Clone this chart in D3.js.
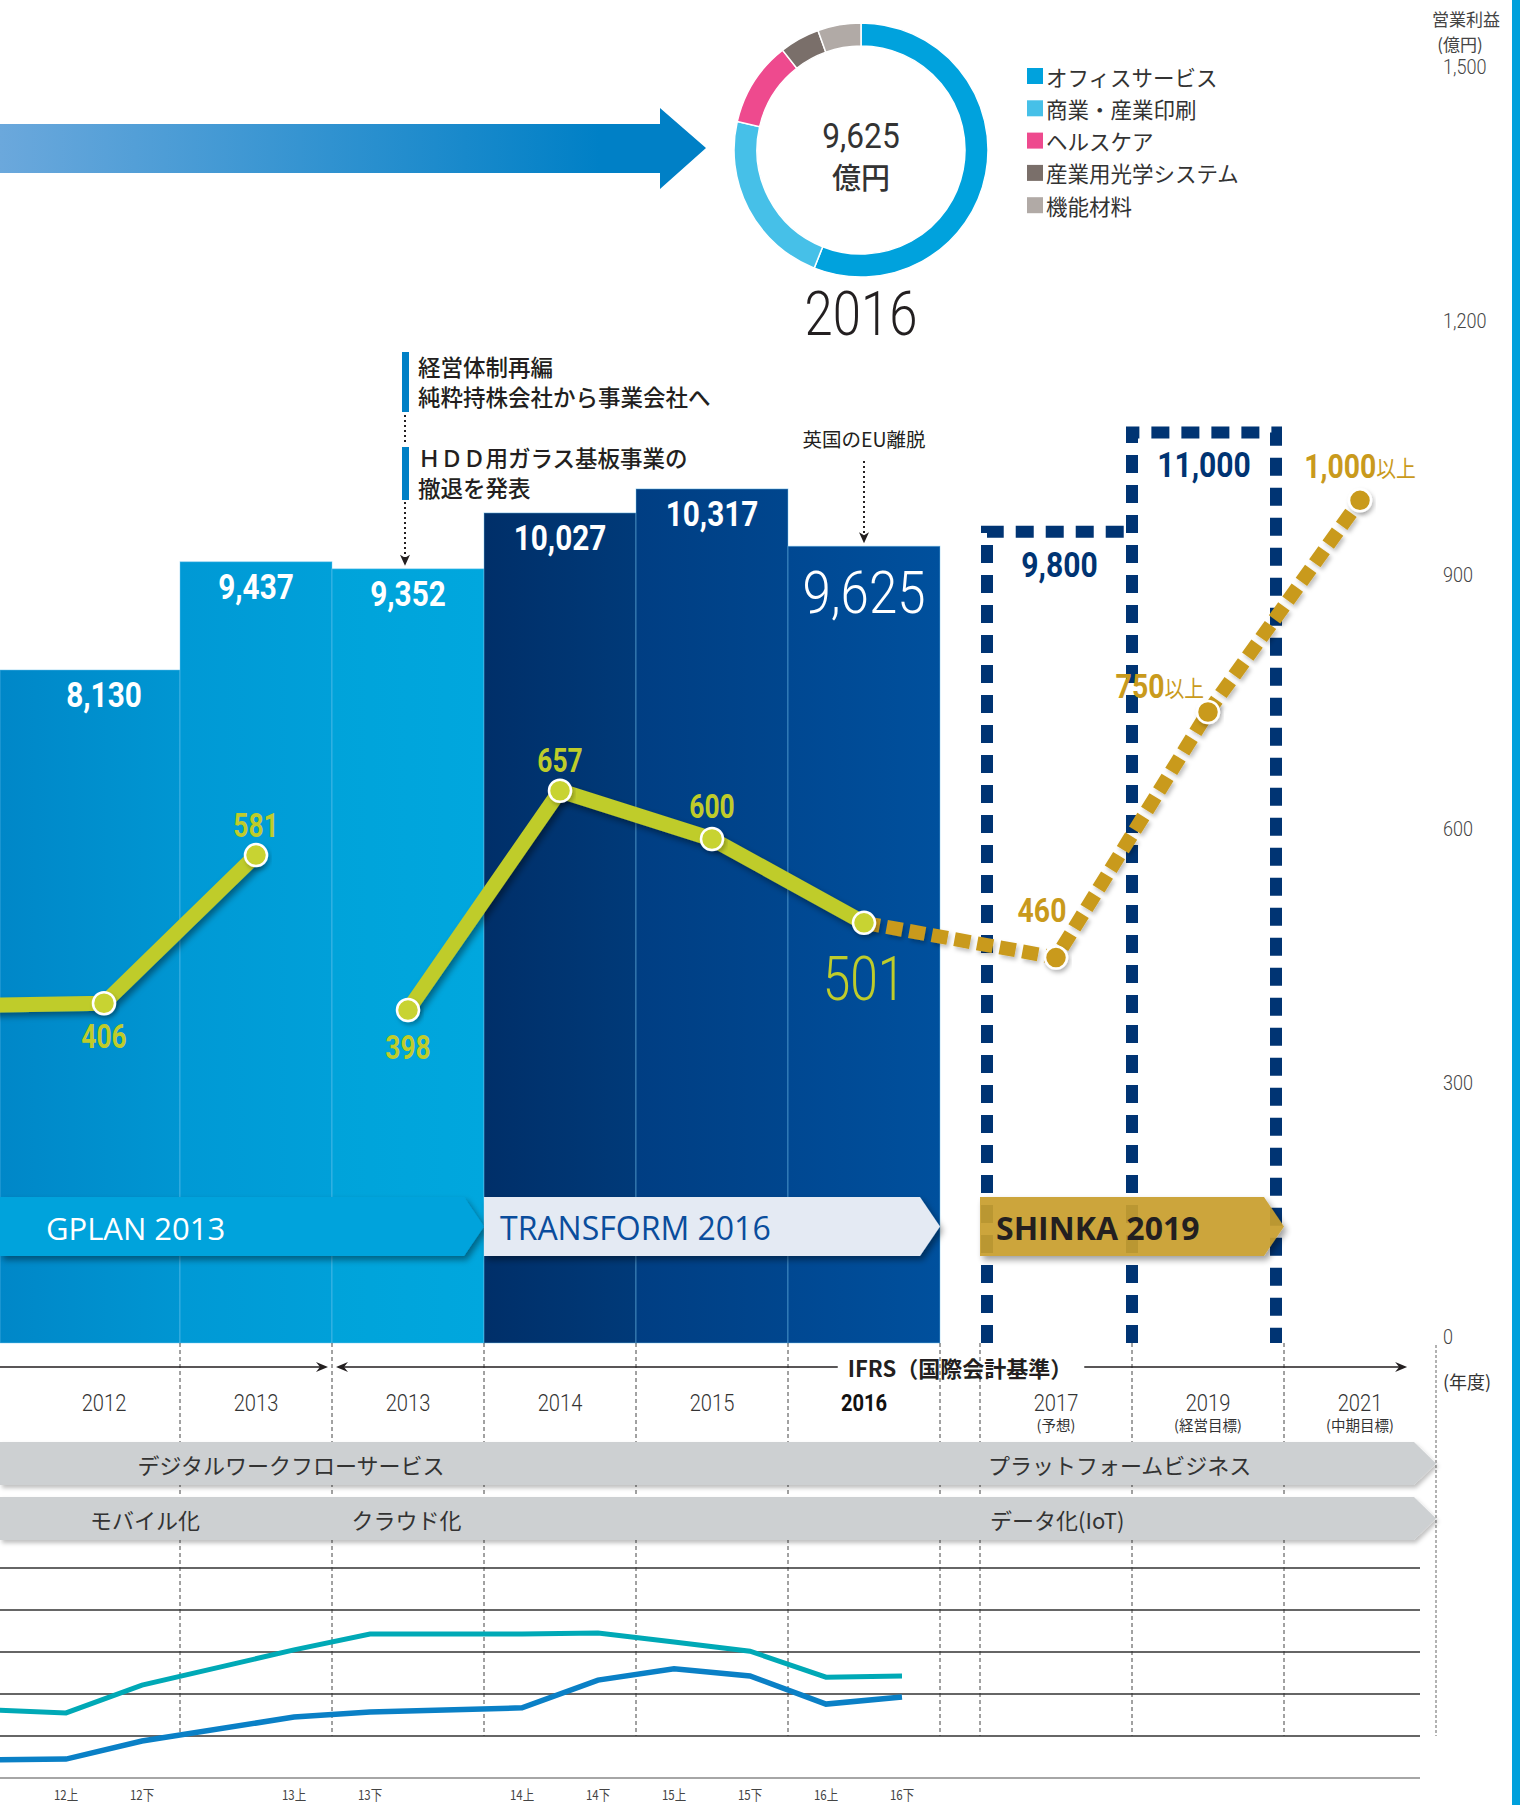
<!DOCTYPE html>
<html>
<head>
<meta charset="utf-8">
<script src="https://cdn.jsdelivr.net/npm/d3@7"></script>
<style>
  body { margin: 0; background: #fff; }
  svg { display: block; background: #fff; }
</style>
</head>
<body>
<svg width="1520" height="1805"></svg>
<script>
// ---- data ----
const actYears  = ["2011", "2012", "2013J", "2013I", "2014", "2015", "2016"];
const actLabels = ["2011", "2012", "2013", "2013", "2014", "2015", "2016"];
const revenue   = [null, 8130, 9437, 9352, 10027, 10317, 9625];
const profit    = [403, 406, 581, 398, 657, 600, 501];
const currentYear = "2016";
const ifrsFrom = "2013I";

const planYears   = ["2017", "2019", "2021"];
const planNotes   = ["(予想)", "(経営目標)", "(中期目標)"];
const planRevenue = [9800, 11000, null];
const planProfit  = [460, 750, 1000];
const planProfitText = ["460", "750以上", "1,000以上"];

const segNames  = ["オフィスサービス", "商業・産業印刷", "ヘルスケア", "産業用光学システム", "機能材料"];
const segShares = [56.0, 22.6, 10.8, 5.1, 5.5];
const totalText = "9,625";

const profitTicks = [0, 300, 600, 900, 1200, 1500];

const halfLabels = ["11下", "12上", "12下", "13上", "13下", "14上", "14下", "15上", "15下", "16上", "16下"];
const lineTeal = [1.62, 1.55, 2.21, 3.05, 3.43, 3.43, 3.45, 3.24, 3.02, 2.40, 2.43];
const lineBlue = [0.43, 0.45, 0.88, 1.45, 1.57, 1.67, 2.33, 2.60, 2.43, 1.76, 1.93];

const plans    = ["GPLAN 2013", "TRANSFORM 2016", "SHINKA 2019"];
const planFrom = ["2011", "2014", "2017"];
const planTo   = ["2013I", "2016", "2019"];

// ---- styles ----
const NUM = "Roboto,'Noto Sans','Noto Sans CJK JP',sans-serif";
const JP = "'Noto Sans CJK JP','Noto Sans',sans-serif";
const SANS = "'Open Sans','Noto Sans',sans-serif";
const segColors = ["#00a2dd", "#46c0e8", "#ee4a8e", "#7a6f6a", "#b1aaa6"];
const barColors = {
  "2012": ["#0087c8", "#0096d2"], "2013J": ["#0099d5", "#00a0d9"], "2013I": ["#00a3da", "#00a7de"],
  "2014": ["#002f69", "#003a79"], "2015": ["#003e83", "#00468e"], "2016": ["#004892", "#00509d"]
};
const lime = "#bfcc2a", gold = "#c99a1c", navy = "#003473";
const profitLabelDy = {"2012": 33, "2013J": -30, "2013I": 37, "2014": -30, "2015": -33, "2016": 56};
const planLabelPos = {"2017": [-14, -47, "middle"], "2019": [-4, -26, "end"], "2021": [0, -34, "middle"]};

let svg = d3.select("svg");

// condensed look: move x/y into a transform and squeeze horizontally
function squeeze(sel, k) {
  sel.each(function() {
    let t = d3.select(this);
    let x = +t.attr("x") || 0, y = +t.attr("y") || 0;
    t.attr("x", 0).attr("y", 0).attr("transform", `translate(${x},${y}) scale(${k},1)`);
  });
  return sel;
}

// ---- scales ----
const xAct = d3.scaleBand().domain(actYears).range([-124, 940]);
const xPlan = d3.scaleBand().domain(planYears).range([980, 1436]);
const bw = xAct.bandwidth();
const cx = k => (actYears.includes(k) ? xAct(k) : xPlan(k)) + bw / 2;
const yRev = d3.scaleLinear().domain([0, 12000]).range([1343, 349.6]);
const yProf = d3.scaleLinear().domain([0, 1500]).range([1347, 77]);
const yLow = d3.scaleLinear().domain([0, 5]).range([1778, 1568]);
const baseY = yRev(0);

const defs = svg.append("defs");
function shadow(id, dx, dy, sd, op) {
  defs.append("filter").attr("id", id)
      .attr("x", "-20%").attr("y", "-30%").attr("width", "140%").attr("height", "170%")
    .append("feDropShadow")
      .attr("dx", dx).attr("dy", dy).attr("stdDeviation", sd)
      .attr("flood-color", "#000").attr("flood-opacity", op);
}
shadow("sh", 3, 4, 3, 0.4);
shadow("shSoft", 2, 3, 2, 0.25);

// right strip
svg.append("rect").attr("x", 1512).attr("y", 0).attr("width", 8).attr("height", 1805).attr("fill", "#00a0dc");

// top gradient arrow
let ag = defs.append("linearGradient").attr("id", "arrowGrad");
ag.append("stop").attr("offset", 0).attr("stop-color", "#6ba8dc");
ag.append("stop").attr("offset", 0.85).attr("stop-color", "#0080c6");
svg.append("path")
    .attr("d", d3.line()([[0, 124], [660, 124], [660, 108], [706, 148], [660, 189], [660, 173], [0, 173]]) + "Z")
    .attr("fill", "url(#arrowGrad)");

// donut
const pie = d3.pie().sort(null).value(d => d);
const arc = d3.arc().innerRadius(104).outerRadius(127);
let donut = svg.append("g").attr("transform", "translate(861,150)");
donut.selectAll("path").data(pie(segShares)).join("path")
    .attr("d", arc).attr("fill", (d, i) => segColors[i])
    .attr("stroke", "#fff").attr("stroke-width", 1.5);
squeeze(donut.append("text").attr("y", -14).attr("text-anchor", "middle").attr("dominant-baseline", "central")
    .attr("font-family", NUM).attr("font-size", 36).attr("fill", "#333").text(totalText), 0.88);
donut.append("text").attr("y", 26).attr("text-anchor", "middle").attr("dominant-baseline", "central")
    .attr("font-family", JP).attr("font-size", 29).attr("font-weight", 500).attr("fill", "#333").text("億円");
squeeze(svg.append("text").attr("x", 861).attr("y", 314).attr("text-anchor", "middle").attr("dominant-baseline", "central")
    .attr("font-family", NUM).attr("font-weight", 300).attr("font-size", 62).attr("fill", "#231f20").text(currentYear), 0.82);

// legend
let legend = svg.append("g").attr("transform", "translate(1027,76)");
let li = legend.selectAll("g").data(segNames).join("g")
    .attr("transform", (d, i) => `translate(0,${i * 32.3})`);
li.append("rect").attr("y", -8).attr("width", 16).attr("height", 16).attr("fill", (d, i) => segColors[i]);
li.append("text").attr("x", 19).attr("dominant-baseline", "central")
    .attr("font-family", JP).attr("font-size", 21.5).attr("fill", "#333").text(d => d);

// right axis (operating profit)
let axisR = svg.append("g").attr("transform", "translate(1443,-10)")
    .call(d3.axisRight(yProf).tickValues(profitTicks).tickSize(0).tickPadding(0).tickFormat(d3.format(",")));
axisR.select(".domain").remove();
axisR.selectAll("text").attr("font-family", NUM).attr("font-weight", 300).attr("font-size", 21)
    .attr("fill", "#444").attr("transform", "scale(0.86,1)");
svg.append("text").attr("x", 1466).attr("y", 18).attr("text-anchor", "middle").attr("dominant-baseline", "central")
    .attr("font-family", JP).attr("font-size", 17).attr("fill", "#444").text("営業利益");
svg.append("text").attr("x", 1460).attr("y", 43).attr("text-anchor", "middle").attr("dominant-baseline", "central")
    .attr("font-family", JP).attr("font-size", 17).attr("fill", "#444").text("(億円)");

// ---- revenue bars ----
const bars = actYears.map((k, i) => ({k, v: revenue[i]})).filter(d => d.v != null);
const barX = d => d.k === bars[0].k ? 0 : xAct(d.k);   // first bar runs off the left edge
bars.forEach(d => {
  let g = defs.append("linearGradient").attr("id", "bg" + d.k);
  g.append("stop").attr("offset", 0).attr("stop-color", barColors[d.k][0]);
  g.append("stop").attr("offset", 1).attr("stop-color", barColors[d.k][1]);
});
svg.append("g").selectAll("rect").data(bars).join("rect")
    .attr("x", barX).attr("y", d => yRev(d.v))
    .attr("width", d => xAct(d.k) + bw - barX(d))
    .attr("height", d => baseY - yRev(d.v))
    .attr("fill", d => `url(#bg${d.k})`)
    .attr("stroke", "rgba(120,200,240,0.45)").attr("stroke-width", 1);

// target boxes (dashed), sharing their middle edge
const targets = planYears.map((k, i) => ({k, v: planRevenue[i]})).filter(d => d.v != null);
const edges = [xPlan(targets[0].k) + 7, xPlan(targets[1].k), xPlan(targets[1].k) + bw - 8];
let boxG = svg.append("g").attr("fill", "none").attr("stroke", navy)
    .attr("stroke-width", 12).attr("stroke-dasharray", "18 12");
boxG.append("path").attr("d", `M${edges[0]},${baseY}V${yRev(targets[0].v)}H${edges[1]}`);
boxG.append("path").attr("d", `M${edges[1]},${baseY}V${yRev(targets[1].v)}H${edges[2]}V${baseY}`);
squeeze(svg.append("g").selectAll("text").data(targets).join("text")
    .attr("x", (d, i) => (edges[i] + edges[i + 1]) / 2).attr("y", d => yRev(d.v) + 33)
    .attr("text-anchor", "middle").attr("dominant-baseline", "central")
    .attr("font-family", NUM).attr("font-weight", "bold").attr("font-size", 35).attr("fill", navy)
    .text(d => d3.format(",")(d.v)), 0.86);

// mid-term plan arrows
const planFill = ["#00a3dc", "#e4eaf3", "#c99f2e"];
const planInk = ["#fff", "#0a4d9c", "#231f20"];
let planG = svg.append("g");
plans.forEach((p, i) => {
  const x0 = Math.max(0, actYears.includes(planFrom[i]) ? xAct(planFrom[i]) : xPlan(planFrom[i]));
  const tip = (actYears.includes(planTo[i]) ? xAct(planTo[i]) : xPlan(planTo[i])) + bw;
  const t = 1197, b = 1256, m = (t + b) / 2;
  planG.append("path")
      .attr("d", d3.line()([[x0, t], [tip - 20, t], [tip, m], [tip - 20, b], [x0, b]]) + "Z")
      .attr("fill", planFill[i]).attr("opacity", i === 2 ? 0.93 : 1).attr("filter", "url(#sh)");
  planG.append("text").attr("x", Math.max(x0, 30) + 16).attr("y", m + 1).attr("dominant-baseline", "central")
      .attr("font-family", SANS).attr("font-size", i === 0 ? 31 : 32).attr("font-weight", i === 2 ? "bold" : "normal")
      .attr("fill", planInk[i]).text(p);
});

// ---- operating profit lines ----
const act = actYears.map((k, i) => ({k, v: profit[i]}));
const ifrsIdx = actYears.indexOf(ifrsFrom);
const line = d3.line().x(d => cx(d.k)).y(d => yProf(d.v));
const planPts = [act[act.length - 1]].concat(planYears.map((k, i) => ({k, v: planProfit[i], t: planProfitText[i]})));

svg.append("path").datum(planPts).attr("d", line)
    .attr("fill", "none").attr("stroke", gold).attr("stroke-width", 14)
    .attr("stroke-dasharray", "16 7").attr("filter", "url(#shSoft)");
svg.append("g").attr("filter", "url(#sh)").selectAll("path")
    .data([act.slice(0, ifrsIdx), act.slice(ifrsIdx)]).join("path")
    .attr("d", line).attr("fill", "none").attr("stroke", lime).attr("stroke-width", 15)
    .attr("stroke-linejoin", "round");
svg.append("g").selectAll("circle").data(planPts.slice(1)).join("circle")
    .attr("cx", d => cx(d.k)).attr("cy", d => yProf(d.v)).attr("r", 11)
    .attr("fill", gold).attr("stroke", "#fff").attr("stroke-width", 2.5).attr("filter", "url(#shSoft)");
svg.append("g").selectAll("circle").data(act).join("circle")
    .attr("cx", d => cx(d.k)).attr("cy", d => yProf(d.v)).attr("r", 11)
    .attr("fill", "#c8d330").attr("stroke", "#fff").attr("stroke-width", 2.5).attr("filter", "url(#shSoft)");

// value labels
squeeze(svg.append("g").selectAll("text").data(bars).join("text")
    .attr("x", d => cx(d.k)).attr("y", d => yRev(d.v) + (d.k === currentYear ? 46 : 25))
    .attr("text-anchor", "middle").attr("dominant-baseline", "central").attr("font-family", NUM)
    .attr("font-size", d => d.k === currentYear ? 60 : 35)
    .attr("font-weight", d => d.k === currentYear ? 300 : "bold")
    .attr("fill", "#fff").text(d => d3.format(",")(d.v)), 0.85);
squeeze(svg.append("g").selectAll("text").data(act.slice(1)).join("text")
    .attr("x", d => cx(d.k)).attr("y", d => yProf(d.v) + profitLabelDy[d.k])
    .attr("text-anchor", "middle").attr("dominant-baseline", "central").attr("font-family", NUM)
    .attr("font-size", d => d.k === currentYear ? 62 : 33)
    .attr("font-weight", d => d.k === currentYear ? 300 : "bold")
    .attr("fill", lime).text(d => d.v), 0.8);
let pl = svg.append("g").selectAll("text").data(planPts.slice(1)).join("text")
    .attr("x", d => cx(d.k) + planLabelPos[d.k][0]).attr("y", d => yProf(d.v) + planLabelPos[d.k][1])
    .attr("text-anchor", d => planLabelPos[d.k][2]).attr("dominant-baseline", "central")
    .attr("fill", gold);
pl.append("tspan").attr("font-family", NUM).attr("font-weight", "bold").attr("font-size", 33)
    .text(d => d.t.replace("以上", ""));
pl.append("tspan").attr("font-family", JP).attr("font-size", 23).text(d => d.t.includes("以上") ? "以上" : "");
squeeze(pl, 0.86);

// ---- annotations ----
function arrowDown(x, y) {
  return `M${x},${y}L${x - 5},${y - 11}L${x},${y - 8}L${x + 5},${y - 11}Z`;
}
let ann = svg.append("g");
const ax = cx("2013I") - 3;
ann.append("rect").attr("x", ax - 3).attr("y", 352).attr("width", 7).attr("height", 60).attr("fill", "#0080c6");
ann.append("rect").attr("x", ax - 3).attr("y", 447).attr("width", 7).attr("height", 53).attr("fill", "#0080c6");
[["経営体制再編", 366], ["純粋持株会社から事業会社へ", 396], ["ＨＤＤ用ガラス基板事業の", 457], ["撤退を発表", 487]]
  .forEach(([t, y]) => ann.append("text").attr("x", ax + 13).attr("y", y).attr("dominant-baseline", "central")
      .attr("font-family", JP).attr("font-size", 22.5).attr("font-weight", 500).attr("fill", "#231f20").text(t));
ann.append("path").attr("d", `M${ax},415V444M${ax},502V${yRev(9352) - 6}`)
    .attr("stroke", "#231f20").attr("stroke-width", 2).attr("stroke-dasharray", "2 3");
ann.append("path").attr("d", arrowDown(ax, yRev(9352) - 3)).attr("fill", "#231f20");
const ex = cx(currentYear);
ann.append("text").attr("x", ex).attr("y", 438).attr("text-anchor", "middle").attr("dominant-baseline", "central")
    .attr("font-family", JP).attr("font-size", 19.5).attr("fill", "#231f20").text("英国のEU離脱");
ann.append("path").attr("d", `M${ex},461V${yRev(9625) - 6}`)
    .attr("stroke", "#231f20").attr("stroke-width", 2).attr("stroke-dasharray", "2 3");
ann.append("path").attr("d", arrowDown(ex, yRev(9625) - 3)).attr("fill", "#231f20");

// ---- lower section ----
// column separators
const seps = actYears.slice(2).map(k => xAct(k)).concat([xAct(currentYear) + bw], planYears.map(k => xPlan(k)));
svg.append("g").selectAll("line").data(seps).join("line")
    .attr("x1", d => d).attr("x2", d => d).attr("y1", baseY).attr("y2", yLow(1))
    .attr("stroke", "#444").attr("stroke-width", 1).attr("stroke-dasharray", "4 3");
svg.append("line").attr("x1", xPlan("2021") + bw).attr("x2", xPlan("2021") + bw)
    .attr("y1", baseY + 2).attr("y2", yLow(1))
    .attr("stroke", "#999").attr("stroke-width", 1.5).attr("stroke-dasharray", "3 2");

// accounting standard row
const ry = 1367, ink = "#231f20";
function arrowHead(x, y, dir) {
  return `M${x},${y}L${x - 12 * dir},${y - 5}L${x - 8 * dir},${y}L${x - 12 * dir},${y + 5}Z`;
}
let acc = svg.append("g");
const jEnd = xAct(ifrsFrom) - 4, iStart = xAct(ifrsFrom) + 4;
const ifrsText = acc.append("text").attr("x", (xAct(currentYear) + bw + xPlan("2017")) / 2).attr("y", ry)
    .attr("text-anchor", "middle").attr("dominant-baseline", "central")
    .attr("font-family", JP).attr("font-size", 22).attr("font-weight", "bold").attr("fill", ink)
    .text("IFRS（国際会計基準）");
const tw = ifrsText.node().getComputedTextLength();
const tx = +ifrsText.attr("x");
const aEnd = xPlan("2021") + bw * 0.81;
acc.append("path").attr("d", `M0,${ry}H${jEnd - 6}M${iStart + 6},${ry}H${tx - tw / 2 - 10}M${tx + tw / 2 + 12},${ry}H${aEnd - 6}`)
    .attr("stroke", ink).attr("stroke-width", 1.5);
acc.append("path").attr("d", arrowHead(jEnd, ry, 1) + arrowHead(iStart, ry, -1) + arrowHead(aEnd, ry, 1)).attr("fill", ink);

// year labels
squeeze(svg.append("g").selectAll("text").data(actYears.slice(1)).join("text")
    .attr("x", d => cx(d)).attr("y", 1402).attr("text-anchor", "middle").attr("dominant-baseline", "central")
    .attr("font-family", NUM).attr("font-size", 24)
    .attr("font-weight", d => d === currentYear ? "bold" : 300)
    .attr("fill", d => d === currentYear ? "#111" : "#333")
    .text(d => actLabels[actYears.indexOf(d)]), 0.84);
let py = svg.append("g").selectAll("g").data(planYears).join("g");
squeeze(py.append("text").attr("x", d => cx(d)).attr("y", 1402).attr("text-anchor", "middle").attr("dominant-baseline", "central")
    .attr("font-family", NUM).attr("font-weight", 300).attr("font-size", 24).attr("fill", "#333").text(d => d), 0.84);
py.append("text").attr("x", d => cx(d)).attr("y", 1424).attr("text-anchor", "middle").attr("dominant-baseline", "central")
    .attr("font-family", JP).attr("font-size", 14.5).attr("fill", "#333").text((d, i) => planNotes[i]);
svg.append("text").attr("x", 1443).attr("y", 1381).attr("dominant-baseline", "central")
    .attr("font-family", JP).attr("font-size", 18).attr("fill", "#333").text("(年度)");

// business theme rows
const rowTop = [1442, 1497], rowH = 43, rowTip = xPlan("2021") + bw;
let rows = svg.append("g");
rowTop.forEach(t => rows.append("path")
    .attr("d", d3.line()([[0, t], [rowTip - 22, t], [rowTip, t + rowH / 2], [rowTip - 22, t + rowH], [0, t + rowH]]) + "Z")
    .attr("fill", "#cdd0d2").attr("filter", "url(#shSoft)"));
[["デジタルワークフローサービス", xAct("2013J") + bw * 0.73, 0, "middle"],
 ["プラットフォームビジネス", xPlan("2017") + 8, 0, "start"],
 ["モバイル化", xAct("2012") + bw * 0.77, 1, "middle"],
 ["クラウド化", xAct("2013I") + bw * 0.49, 1, "middle"],
 ["データ化(IoT)", xPlan("2017") + 10, 1, "start"]]
  .forEach(([t, x, r, a]) => rows.append("text").attr("x", x).attr("y", rowTop[r] + rowH / 2)
      .attr("text-anchor", a).attr("dominant-baseline", "central")
      .attr("font-family", JP).attr("font-size", 22).attr("fill", "#333").text(t));

// half-year chart
function halfX(lbl) {
  const yr = "20" + lbl.slice(0, 2), h = lbl.slice(2);
  // FY2013 is split across the J-GAAP / IFRS columns; its halves sit next to that boundary
  if (yr === "2013") return h === "上" ? xAct("2013J") + bw * 0.75 : xAct("2013I") + bw * 0.25;
  return xAct(yr) + bw * (h === "上" ? 0.25 : 0.75);
}
svg.append("g").selectAll("line").data(d3.range(0, 6)).join("line")
    .attr("x1", 0).attr("x2", 1420).attr("y1", d => yLow(d)).attr("y2", d => yLow(d))
    .attr("stroke", d => d === 0 ? "#888" : "#333").attr("stroke-width", 1.5);
const lowLine = d3.line().x((d, i) => halfX(halfLabels[i])).y(d => yLow(d));
svg.append("path").datum(lineTeal).attr("d", lowLine).attr("fill", "none").attr("stroke", "#00a9b6").attr("stroke-width", 5);
svg.append("path").datum(lineBlue).attr("d", lowLine).attr("fill", "none").attr("stroke", "#0a80c6").attr("stroke-width", 5.5);
squeeze(svg.append("g").selectAll("text").data(halfLabels.filter(l => halfX(l) > 20)).join("text")
    .attr("x", d => halfX(d)).attr("y", 1794).attr("text-anchor", "middle").attr("dominant-baseline", "central")
    .attr("font-family", JP).attr("font-size", 13.5).attr("fill", "#444").text(d => d), 0.85);
</script>
</body>
</html>
